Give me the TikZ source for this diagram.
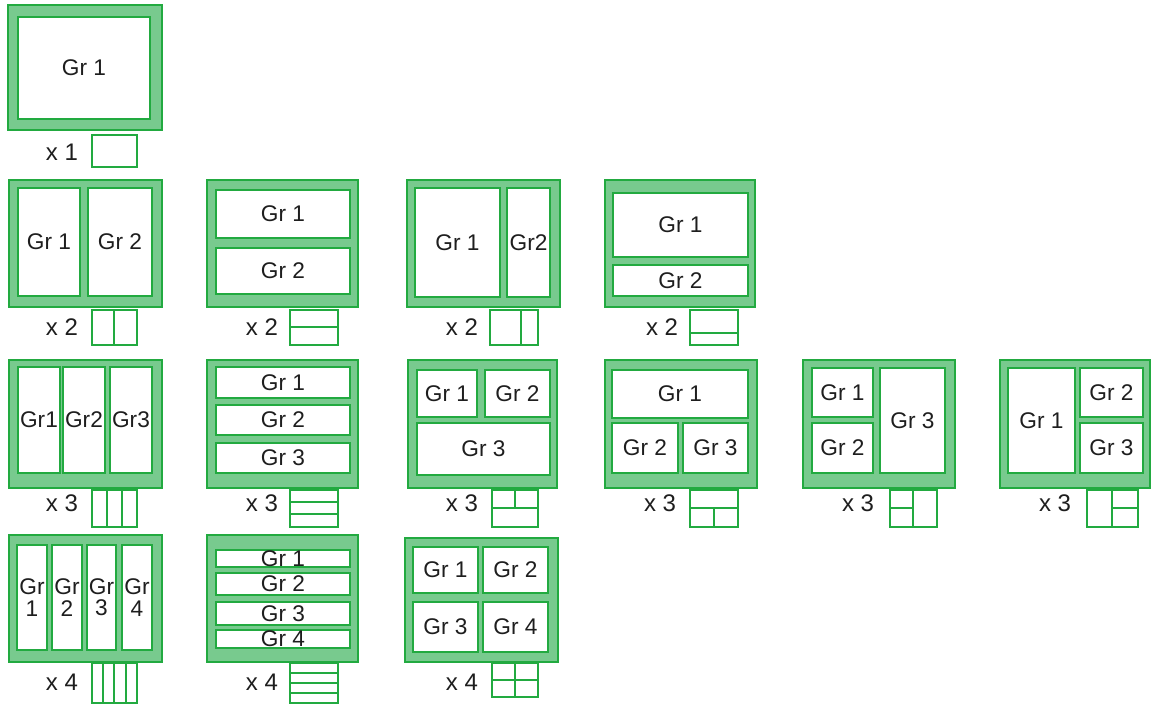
\documentclass[tikz,border=0pt]{standalone}
\usepackage{fontspec}
\setmainfont{Liberation Sans}
\usetikzlibrary{fit}
\definecolor{gdark}{RGB}{34,170,64}
\definecolor{glight}{RGB}{120,202,142}
\definecolor{gtext}{RGB}{30,30,30}
\tikzset{
 panel/.style={draw=gdark, fill=glight, line width=2.2pt, inner sep=0pt},
 cell/.style={draw=gdark, fill=white, line width=1.6pt, inner sep=0pt},
 lbl/.style={font=\fontsize{17}{16}\selectfont, text=gtext, align=center, inner sep=0pt},
 icon/.style={draw=gdark, fill=white, line width=2.2pt, inner sep=0pt},
 div/.style={draw=gdark, line width=1.4pt},
 count/.style={font=\fontsize{18}{18}\selectfont, text=gtext, inner sep=0pt},
}
\newcommand{\cellbox}[4]{\node[cell, fit={#2 #3}] (#1) {}; \node[lbl] (#1t) at (#1.center) {#4};}
\begin{document}
\begin{tikzpicture}[x=0.75pt,y=-0.75pt]
\useasboundingbox (0,0) rectangle (1152,706);
% Row 1
\node[panel, fit={(8,5)(162,130)}] (p1) {};
\cellbox{c1}{(18,17)}{(150,119)}{Gr 1}
\node[count] (n1) at (62,152) {x 1};
\node[icon, fit={(92,135)(137,167)}] (i1) {};
% Row 2
\node[panel, fit={(9,180)(162,307)}] (p2a) {};
\cellbox{c2a1}{(18,188)}{(80,296)}{Gr 1}
\cellbox{c2a2}{(88,188)}{(152,296)}{Gr 2}
\node[count] (n2a) at (62,327) {x 2};
\node[icon, fit={(92,310)(137,345)}] (i2a) {};
\draw[div] (114,310) -- (114,345);

\node[panel, fit={(207,180)(358,307)}] (p2b) {};
\cellbox{c2b1}{(216,190)}{(350,238)}{Gr 1}
\cellbox{c2b2}{(216,248)}{(350,294)}{Gr 2}
\node[count] (n2b) at (262,327) {x 2};
\node[icon, fit={(290,310)(338,345)}] (i2b) {};
\draw[div] (290,327) -- (338,327);

\node[panel, fit={(407,180)(560,307)}] (p2c) {};
\cellbox{c2c1}{(415,188)}{(500,297)}{Gr 1}
\cellbox{c2c2}{(507,188)}{(550,297)}{Gr2}
\node[count] (n2c) at (462,327) {x 2};
\node[icon, fit={(490,310)(538,345)}] (i2c) {};
\draw[div] (521,310) -- (521,345);

\node[panel, fit={(605,180)(755,307)}] (p2d) {};
\cellbox{c2d1}{(613,193)}{(748,257)}{Gr 1}
\cellbox{c2d2}{(613,265)}{(748,296)}{Gr 2}
\node[count] (n2d) at (662,327) {x 2};
\node[icon, fit={(690,310)(738,345)}] (i2d) {};
\draw[div] (690,333) -- (738,333);
% Row 3
\node[panel, fit={(9,360)(162,488)}] (p3a) {};
\cellbox{c3a1}{(18,367)}{(60,473)}{Gr1}
\cellbox{c3a2}{(63,367)}{(105,473)}{Gr2}
\cellbox{c3a3}{(110,367)}{(152,473)}{Gr3}
\node[count] (n3a) at (62,503) {x 3};
\node[icon, fit={(92,490)(137,527)}] (i3a) {};
\draw[div] (107,490) -- (107,527) (122,490) -- (122,527);

\node[panel, fit={(207,360)(358,488)}] (p3b) {};
\cellbox{c3b1}{(216,367)}{(350,398)}{Gr 1}
\cellbox{c3b2}{(216,405)}{(350,435)}{Gr 2}
\cellbox{c3b3}{(216,443)}{(350,473)}{Gr 3}
\node[count] (n3b) at (262,503) {x 3};
\node[icon, fit={(290,490)(338,527)}] (i3b) {};
\draw[div] (290,502) -- (338,502) (290,514) -- (338,514);

\node[panel, fit={(408,360)(557,488)}] (p3c) {};
\cellbox{c3c1}{(417,370)}{(477,417)}{Gr 1}
\cellbox{c3c2}{(485,370)}{(550,417)}{Gr 2}
\cellbox{c3c3}{(417,423)}{(550,475)}{Gr 3}
\node[count] (n3c) at (462,503) {x 3};
\node[icon, fit={(492,490)(538,527)}] (i3c) {};
\draw[div] (492,508) -- (538,508) (515,490) -- (515,508);

\node[panel, fit={(605,360)(757,488)}] (p3d) {};
\cellbox{c3d1}{(612,370)}{(748,418)}{Gr 1}
\cellbox{c3d2}{(612,423)}{(678,473)}{Gr 2}
\cellbox{c3d3}{(683,423)}{(748,473)}{Gr 3}
\node[count] (n3d) at (660,503) {x 3};
\node[icon, fit={(690,490)(738,527)}] (i3d) {};
\draw[div] (690,508) -- (738,508) (714,508) -- (714,527);

\node[panel, fit={(803,360)(955,488)}] (p3e) {};
\cellbox{c3e1}{(812,368)}{(873,417)}{Gr 1}
\cellbox{c3e2}{(812,423)}{(873,473)}{Gr 2}
\cellbox{c3e3}{(880,368)}{(945,473)}{Gr 3}
\node[count] (n3e) at (858,503) {x 3};
\node[icon, fit={(890,490)(937,527)}] (i3e) {};
\draw[div] (913,490) -- (913,527) (890,508) -- (913,508);

\node[panel, fit={(1000,360)(1150,488)}] (p3f) {};
\cellbox{c3f1}{(1008,368)}{(1075,473)}{Gr 1}
\cellbox{c3f2}{(1080,368)}{(1143,417)}{Gr 2}
\cellbox{c3f3}{(1080,423)}{(1143,473)}{Gr 3}
\node[count] (n3f) at (1055,503) {x 3};
\node[icon, fit={(1087,490)(1138,527)}] (i3f) {};
\draw[div] (1112,490) -- (1112,527) (1112,508) -- (1138,508);
% Row 4
\node[panel, fit={(9,535)(162,662)}] (p4a) {};
\cellbox{c4a1}{(17,545)}{(47,650)}{Gr\\1}
\cellbox{c4a2}{(52,545)}{(82,650)}{Gr\\2}
\cellbox{c4a3}{(87,545)}{(116,650)}{Gr\\3}
\cellbox{c4a4}{(122,545)}{(152,650)}{Gr\\4}
\node[count] (n4a) at (62,682) {x 4};
\node[icon, fit={(92,663)(137,703)}] (i4a) {};
\draw[div] (103,663) -- (103,703) (114,663) -- (114,703) (126,663) -- (126,703);

\node[panel, fit={(207,535)(358,662)}] (p4b) {};
\cellbox{c4b1}{(216,550)}{(350,567)}{Gr 1}
\cellbox{c4b2}{(216,573)}{(350,595)}{Gr 2}
\cellbox{c4b3}{(216,602)}{(350,625)}{Gr 3}
\cellbox{c4b4}{(216,630)}{(350,648)}{Gr 4}
\node[count] (n4b) at (262,682) {x 4};
\node[icon, fit={(290,663)(338,703)}] (i4b) {};
\draw[div] (290,673) -- (338,673) (290,683) -- (338,683) (290,693) -- (338,693);

\node[panel, fit={(405,538)(558,662)}] (p4c) {};
\cellbox{c4c1}{(413,547)}{(478,593)}{Gr 1}
\cellbox{c4c2}{(483,547)}{(548,593)}{Gr 2}
\cellbox{c4c3}{(413,602)}{(478,652)}{Gr 3}
\cellbox{c4c4}{(483,602)}{(548,652)}{Gr 4}
\node[count] (n4c) at (462,682) {x 4};
\node[icon, fit={(492,663)(538,697)}] (i4c) {};
\draw[div] (515,663) -- (515,697) (492,680) -- (538,680);
\end{tikzpicture}
\end{document}
